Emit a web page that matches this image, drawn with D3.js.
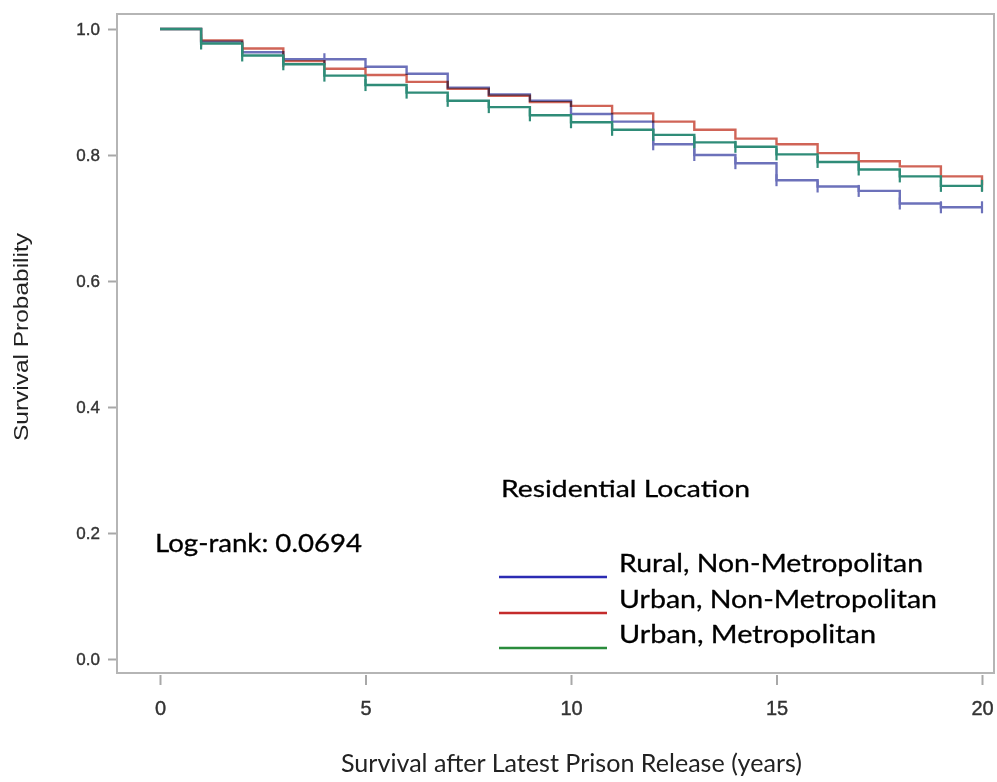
<!DOCTYPE html>
<html>
<head>
<meta charset="utf-8">
<script src="https://cdn.jsdelivr.net/npm/d3@7"></script>
<style>
  body { margin: 0; background: #fff; }
  svg { display: block; }
</style>
</head>
<body>
<div id="chart"></div>
<script>
// Kaplan-Meier curves, value held on [year, year+1), last entry is the value at year 20
var years = d3.range(0, 21);
var rural = [1, 0.980, 0.963, 0.952, 0.952, 0.940, 0.929, 0.907, 0.896, 0.886,
             0.865, 0.853, 0.817, 0.800, 0.787, 0.760, 0.750, 0.743, 0.723, 0.717, 0.717];
var urbanNonMetro = [1, 0.982, 0.969, 0.949, 0.937, 0.927, 0.916, 0.905, 0.894, 0.884,
             0.878, 0.866, 0.853, 0.840, 0.826, 0.817, 0.803, 0.790, 0.782, 0.766, 0.752];
var urbanMetro = [1, 0.977, 0.958, 0.944, 0.926, 0.911, 0.899, 0.886, 0.876, 0.863,
             0.852, 0.840, 0.832, 0.820, 0.813, 0.801, 0.789, 0.777, 0.766, 0.751, 0.751];

// years with a censoring mark
var ruralCensor = [4, 12, 13, 14, 15, 16, 17, 18, 19, 20];
var urbanNonMetroCensor = [1, 2, 3, 20];
var urbanMetroCensor = d3.range(1, 21);

var seriesNames = ["Rural, Non-Metropolitan", "Urban, Non-Metropolitan", "Urban, Metropolitan"];
var xTicks = [0, 5, 10, 15, 20];
var yTicks = [0, 0.2, 0.4, 0.6, 0.8, 1.0];
var logRank = "Log-rank: 0.0694";

var W = 997, H = 782;

var svg = d3.select("#chart").append("svg")
  .attr("width", W)
  .attr("height", H);

// scales
var x = d3.scaleLinear().domain([0, 20]).range([160, 982]);
var y = d3.scaleLinear().domain([0, 1]).range([659, 29]);

// plot frame
svg.append("rect")
  .attr("x", 117).attr("y", 14)
  .attr("width", 994 - 117).attr("height", 673 - 14)
  .attr("fill", "none")
  .attr("stroke", "#b5b5b5")
  .attr("stroke-width", 2);

// axes
var xAxis = svg.append("g")
  .attr("transform", "translate(0,675)")
  .call(d3.axisBottom(x).tickValues(xTicks).tickSize(10).tickFormat(d3.format("d")));
xAxis.select(".domain").remove();
xAxis.selectAll("line").attr("stroke", "#a8a8a8").attr("stroke-width", 2);
xAxis.selectAll("text")
  .attr("dy", null)
  .attr("y", 40)
  .attr("fill", "#333")
  .attr("stroke", "#333").attr("stroke-width", 0.4)
  .style("font-family", "'Liberation Sans Narrow', 'Liberation Sans', sans-serif")
  .style("font-size", "20px");

var yAxis = svg.append("g")
  .attr("transform", "translate(116,0)")
  .call(d3.axisLeft(y).tickValues(yTicks).tickSize(8).tickPadding(8).tickFormat(d3.format(".1f")));
yAxis.select(".domain").remove();
yAxis.selectAll("line").attr("stroke", "#a8a8a8").attr("stroke-width", 2);
yAxis.selectAll("text")
  .attr("fill", "#333")
  .attr("stroke", "#333").attr("stroke-width", 0.4)
  .style("font-family", "'Liberation Sans', Arial, sans-serif")
  .style("font-size", "17px");

// curves: blue and red multiply where they overlap, green sits on top
var series = [
  {name: seriesNames[1], vals: urbanNonMetro, censor: urbanNonMetroCensor, color: "#d06457", blend: "multiply"},
  {name: seriesNames[0], vals: rural, censor: ruralCensor, color: "#6c71ba", blend: "multiply"},
  {name: seriesNames[2], vals: urbanMetro, censor: urbanMetroCensor, color: "#2f8c78", blend: "normal"}
];

var line = d3.line()
  .x(function(d) { return x(d[0]); })
  .y(function(d) { return y(d[1]); })
  .curve(d3.curveStepAfter);

series.forEach(function(s) {
  var pts = years.map(function(t, i) { return [t, s.vals[i]]; });
  var g = svg.append("g").style("mix-blend-mode", s.blend);
  g.append("path")
    .attr("d", line(pts))
    .attr("fill", "none")
    .attr("stroke", s.color)
    .attr("stroke-width", 2.4);
  g.selectAll("line.censor")
    .data(s.censor)
    .enter()
    .append("line")
      .attr("class", "censor")
      .attr("x1", function(d) { return x(d); })
      .attr("x2", function(d) { return x(d); })
      .attr("y1", function(d) { return y(s.vals[d]) - 6; })
      .attr("y2", function(d) { return y(s.vals[d]) + 6; })
      .attr("stroke", s.color)
      .attr("stroke-width", 2.2);
});

var calibri = "Lato, 'Open Sans', sans-serif";

// log-rank note
svg.append("text")
  .attr("x", 155).attr("y", 552)
  .attr("textLength", 207).attr("lengthAdjust", "spacingAndGlyphs")
  .style("font-family", calibri).style("font-size", "25px")
  .attr("fill", "#000").attr("stroke", "#000").attr("stroke-width", 0.3)
  .text(logRank);

// legend
svg.append("text")
  .attr("x", 501).attr("y", 497)
  .attr("textLength", 249).attr("lengthAdjust", "spacingAndGlyphs")
  .style("font-family", calibri).style("font-size", "24px")
  .attr("fill", "#000").attr("stroke", "#000").attr("stroke-width", 0.3)
  .text("Residential Location");

var legendColors = ["#2b2bb3", "#c42b2b", "#2a8c3c"];
var legendLineY = [577, 613, 648];
var legendTextY = [572, 608, 643];
var legendWidths = [304, 318, 257];

seriesNames.forEach(function(n, i) {
  svg.append("line")
    .attr("x1", 499).attr("x2", 607)
    .attr("y1", legendLineY[i]).attr("y2", legendLineY[i])
    .attr("stroke", legendColors[i])
    .attr("stroke-width", 2.5);
  svg.append("text")
    .attr("x", 619).attr("y", legendTextY[i])
    .attr("textLength", legendWidths[i]).attr("lengthAdjust", "spacingAndGlyphs")
    .style("font-family", calibri).style("font-size", "25px")
    .attr("fill", "#000").attr("stroke", "#000").attr("stroke-width", 0.3)
    .text(n);
});

// axis titles
svg.append("text")
  .attr("x", 341).attr("y", 772)
  .attr("textLength", 461).attr("lengthAdjust", "spacingAndGlyphs")
  .style("font-family", calibri).style("font-size", "25px")
  .attr("fill", "#222")
  .text("Survival after Latest Prison Release (years)");

svg.append("text")
  .attr("transform", "translate(28,337) rotate(-90)")
  .attr("text-anchor", "middle")
  .attr("textLength", 208).attr("lengthAdjust", "spacingAndGlyphs")
  .style("font-family", "'Liberation Sans', Arial, sans-serif").style("font-size", "21px")
  .attr("fill", "#222")
  .text("Survival Probability");
</script>
</body>
</html>
